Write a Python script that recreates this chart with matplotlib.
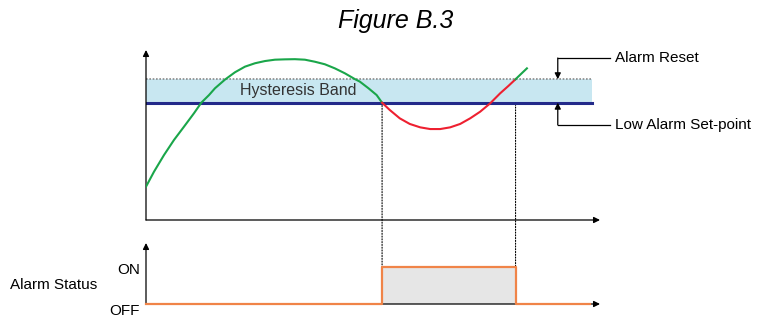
import matplotlib
matplotlib.use('Agg')
import matplotlib.pyplot as plt
from matplotlib.patches import ConnectionPatch

plt.rcParams['font.family'] = ['Liberation Sans', 'DejaVu Sans']

# ---- data (time 0..100, process value 0..100) ----
green1_t = [0, 1.76, 3.96, 6.17, 8.37, 10.57, 12.18, 13.88, 15.2, 17.4, 19.6, 21.8, 24.0, 26.2,
            28.4, 30.6, 32.8, 35.0, 37.2, 39.4, 41.6, 43.8, 46.0, 47.1, 49.0, 50.8, 52.0]
green1_v = [19.6, 28.4, 38.2, 47.1, 54.9, 62.8, 69.0, 73.5, 77.5, 82.6, 86.9, 90.2, 92.2, 93.5,
            94.3, 94.5, 94.6, 94.3, 93.1, 91.6, 89.2, 86.3, 82.9, 81.4, 77.5, 73.5, 69.0]
red_t = [52.0, 53.7, 55.9, 58.1, 60.4, 62.6, 64.8, 67.0, 69.2, 71.4, 73.6, 75.8, 78.0, 79.8, 81.4]
red_v = [69.0, 64.7, 59.8, 56.5, 54.5, 53.5, 53.5, 54.5, 56.5, 59.8, 63.7, 68.6, 74.5, 78.8, 82.8]
green2_t = [81.4, 82.6, 83.9]
green2_v = [82.8, 85.9, 89.2]
set_point = 69.0
reset_point = 82.8
band_end = 98.2
status_t = [0, 52.0, 52.0, 81.4, 81.4, 97.8]
status_v = [0, 0, 1, 1, 0, 0]
status_labels = ['OFF', 'ON']
alarm_on_t = 52.0
alarm_off_t = 81.4

W, H = 759, 320
fig = plt.figure(figsize=(W / 100, H / 100), dpi=100)

def fx(px):
    return px / W

def fy(py):
    return 1 - py / H

left = fx(146)
width = fx(600) - fx(146)

ax = fig.add_axes([left, fy(220), width, fy(50) - fy(220)])
ax.set_xlim(0, 100)
ax.set_ylim(0, 100)
ax.axis('off')

axs = fig.add_axes([left, fy(304), width, fy(243) - fy(304)])
axs.set_xlim(0, 100)
axs.set_ylim(0, 1.65)
axs.axis('off')

arrow_kw = dict(arrowstyle='-|>', color='black', lw=0.9, mutation_scale=9, shrinkA=0, shrinkB=0)
for a in (ax, axs):
    a.annotate('', xy=(1, 0), xytext=(0, 0), xycoords='axes fraction', arrowprops=arrow_kw)
    a.annotate('', xy=(0, 1), xytext=(0, 0), xycoords='axes fraction', arrowprops=arrow_kw)

# hysteresis band
ax.fill_between([0, band_end], set_point, reset_point, color='#c8e7f1', lw=0, zorder=1)
ax.plot([0, band_end], [reset_point, reset_point], color='#8a8a8a', lw=1.2, ls=(0, (1, 1)), zorder=2)
ax.plot([0, band_end], [set_point, set_point], color='#232a8a', lw=2.2, zorder=2)
ax.text(33.6, 76.3, 'Hysteresis Band', ha='center', va='center', fontsize=11.5, color='#333333', zorder=3)

# process curve
ax.plot(green1_t, green1_v, color='#1aa64a', lw=1.5, zorder=4, solid_joinstyle='round')
ax.plot(red_t, red_v, color='#ee2030', lw=1.5, zorder=4, solid_joinstyle='round')
ax.plot(green2_t, green2_v, color='#1aa64a', lw=1.5, zorder=4)

# right-side annotations
ann_x = 90.7
line_end = 102.2
for y_line, y_target, label in [(95.3, reset_point, 'Alarm Reset'),
                                (55.9, set_point, 'Low Alarm Set-point')]:
    ax.plot([ann_x, line_end], [y_line, y_line], color='black', lw=0.9, clip_on=False)
    ax.annotate('', xy=(ann_x, y_target), xytext=(ann_x, y_line),
                arrowprops=dict(arrowstyle='-|>', color='black', lw=0.9, mutation_scale=9,
                                shrinkA=0, shrinkB=0), annotation_clip=False)
    ax.text(line_end + 1.0, y_line, label, ha='left', va='center', fontsize=11, clip_on=False)

# alarm status
axs.fill_between(status_t, status_v, 0, color='#e6e6e6', lw=0, zorder=1)
axs.plot(status_t, status_v, color='#f08448', lw=1.6, zorder=3, clip_on=False)
axs.text(-1.3, 0.93, status_labels[1], ha='right', va='center', fontsize=11)
axs.text(-1.3, -0.19, status_labels[0], ha='right', va='center', fontsize=11)
fig.text(fx(10), fy(285), 'Alarm Status', ha='left', va='center', fontsize=11)

# dotted connectors
for t, v in [(alarm_on_t, set_point), (alarm_off_t, reset_point)]:
    con = ConnectionPatch(xyA=(t, v), coordsA=ax.transData, xyB=(t, 1), coordsB=axs.transData,
                          color='black', lw=0.8, ls=(0, (1, 1.5)), zorder=0)
    fig.add_artist(con)

fig.text(fx(396), fy(21), 'Figure B.3', ha='center', va='center', fontsize=18, style='italic')

fig.savefig('out.png', dpi=100)
